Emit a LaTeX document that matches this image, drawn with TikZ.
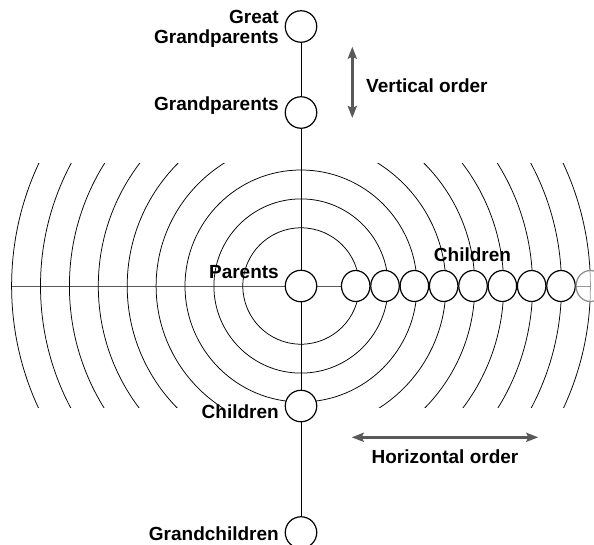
\documentclass[tikz,border=0pt]{standalone}
\usepackage{fontspec}
\setmainfont{Liberation Sans}
\usetikzlibrary{arrows.meta, positioning, shapes.geometric, backgrounds}

\tikzset{
  gen/.style={circle, draw, line width=1.2pt, fill=white, minimum size=31.5pt, inner sep=0pt},
  kid/.style={ellipse, draw, line width=1.2pt, fill=white, minimum width=28.5pt, minimum height=31pt, inner sep=0pt},
  lbl/.style={font=\bfseries\fontsize{19}{20}\selectfont, inner sep=0pt, align=right},
  ring/.style={line width=0.75pt},
  link/.style={line width=0.75pt},
  order/.style={draw=black!65, line width=2.6pt, {Stealth[length=12pt,width=9pt,inset=2pt]}-{Stealth[length=12pt,width=9pt,inset=2pt]}}
}

\begin{document}
\begin{tikzpicture}[x=1pt, y=-1pt]
  \useasboundingbox (0,0) rectangle (594,544);

  % generations on the vertical line
  \node[gen] (gg)  at (301,26.5)  {};
  \node[gen] (gp)  at (301,112.5) {};
  \node[gen] (par) at (301,286)   {};
  \node[gen] (ch)  at (301,406)   {};
  \node[gen] (gc)  at (301,532.5) {};

  % children on the horizontal line
  \foreach \i in {1,...,8}
    \node[kid] (c\i) at ({355.7+29.33*(\i-1)},286) {};
  \node[kid, draw=black!45, fill opacity=0.6] (c9) at (590.3,286) {};

  % labels
  \node[lbl, anchor=east] (gglbl) at (279,28.5) {Great\\Grandparents};
  \node[lbl, anchor=base east] (gplbl) at (279,110.5) {Grandparents};
  \node[lbl, anchor=base east] (parlbl) at (279,278) {Parents};
  \node[lbl, anchor=base east] (chlbl) at (279,418.5) {Children};
  \node[lbl, anchor=base east] (gclbl) at (279,540) {Grandchildren};
  \node[lbl, anchor=base] (kidlbl) at (472.5,261) {Children};

  % order arrows
  \coordinate (vtop) at (352.3,46.7);
  \coordinate (vbot) at (352.3,118);
  \coordinate (hleft) at (351.7,437.3);
  \coordinate (hright) at (538.3,437.3);
  \draw[order] (vtop) -- (vbot);
  \draw[order] (hleft) -- (hright);
  \node[lbl, anchor=base west] (vlbl) at (366,92.7) {Vertical order};
  \node[lbl, anchor=base] (hlbl) at (445,463.3) {Horizontal order};

  \begin{scope}[on background layer]
    % rings round the parents
    \begin{scope}
      \clip (0,163) rectangle (594,407);
      \foreach \k in {0,...,8}
        \draw[ring] (par.center) circle ({58.2+28.9*\k});
    \end{scope}
    \coordinate (hstart) at (11.7,286);
    \draw[link] (hstart) -- (par.center) -- (c9.center);
    \draw[link] (gg) -- (gp) -- (par) -- (ch) -- (gc);
  \end{scope}
\end{tikzpicture}
\end{document}
